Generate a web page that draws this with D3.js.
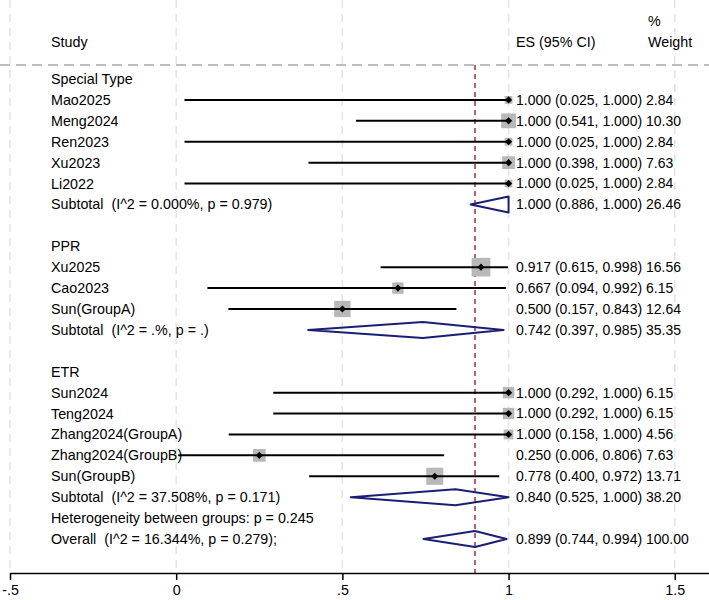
<!DOCTYPE html>
<html>
<head>
  <meta charset="utf-8">
  <title>Forest plot</title>
  <style>
  body { margin: 0; background: #fff; }
  svg text { font-family: "Liberation Sans", Arial, sans-serif; font-size: 14.3px; fill: #000; white-space: pre; }
  svg text.num { font-size: 14px; }
  .axis path, .axis line { stroke: #000; stroke-width: 1.5px; }
  </style>
</head>
<body>
  <svg width="709" height="600"></svg>
  <script src="https://d3js.org/d3.v7.min.js"></script>
  <script>
  // groups and studies
  var groups = ["Special Type", "PPR", "ETR"];
  var studies = ["Mao2025", "Meng2024", "Ren2023", "Xu2023", "Li2022",
                 "Xu2025", "Cao2023", "Sun(GroupA)",
                 "Sun2024", "Teng2024", "Zhang2024(GroupA)", "Zhang2024(GroupB)", "Sun(GroupB)"];
  var studyGroup = [0, 0, 0, 0, 0, 1, 1, 1, 2, 2, 2, 2, 2];
  var es     = [1.000, 1.000, 1.000, 1.000, 1.000, 0.917, 0.667, 0.500, 1.000, 1.000, 1.000, 0.250, 0.778];
  var lo     = [0.025, 0.541, 0.025, 0.398, 0.025, 0.615, 0.094, 0.157, 0.292, 0.292, 0.158, 0.006, 0.400];
  var hi     = [1.000, 1.000, 1.000, 1.000, 1.000, 0.998, 0.992, 0.843, 1.000, 1.000, 1.000, 0.806, 0.972];
  var weight = [2.84, 10.30, 2.84, 7.63, 2.84, 16.56, 6.15, 12.64, 6.15, 6.15, 4.56, 7.63, 13.71];

  // subtotals
  var subLabels = ["Subtotal  (I^2 = 0.000%, p = 0.979)", "Subtotal  (I^2 = .%, p = .)", "Subtotal  (I^2 = 37.508%, p = 0.171)"];
  var subEs  = [1.000, 0.742, 0.840];
  var subLo  = [0.886, 0.397, 0.525];
  var subHi  = [1.000, 0.985, 1.000];
  var subW   = [26.46, 35.35, 38.20];

  // overall
  var hetLabel = "Heterogeneity between groups: p = 0.245";
  var overallLabel = "Overall  (I^2 = 16.344%, p = 0.279);";
  var overall = {es: 0.899, lo: 0.744, hi: 0.994, w: 100.00};

  var ticks = [-0.5, 0, 0.5, 1, 1.5];
  var tickLabels = ["-.5", "0", ".5", "1", "1.5"];

  var svg = d3.select("svg");
  var axisY = 573, headY = 65;
  var colLabel = 51, colEs = 516, colW = 646;

  var fmt = d3.format(".3f"), fmtW = d3.format(".2f");
  var ci = function(e, l, h) { return fmt(e) + " (" + fmt(l) + ", " + fmt(h) + ")"; };

  // build the row list
  var rows = [], r = 0;
  groups.forEach(function(g, gi) {
    rows.push({row: r++, type: "group", label: g});
    studies.forEach(function(s, i) {
      if (studyGroup[i] !== gi) return;
      rows.push({row: r++, type: "study", label: s, es: es[i], lo: lo[i], hi: hi[i], w: weight[i]});
    });
    rows.push({row: r++, type: "sub", label: subLabels[gi], es: subEs[gi], lo: subLo[gi], hi: subHi[gi], w: subW[gi]});
    if (gi < groups.length - 1) r++;
  });
  rows.push({row: r++, type: "text", label: hetLabel});
  rows.push({row: r++, type: "sub", label: overallLabel, es: overall.es, lo: overall.lo, hi: overall.hi, w: overall.w});

  var x = d3.scaleLinear().domain([-0.5, 1.603]).range([10, 709]);
  var y = d3.scaleLinear().domain([0, 22]).range([79, 539]);

  // vertical grid lines
  svg.append("g").selectAll("line").data(ticks).join("line")
    .attr("x1", d => x(d)).attr("x2", d => x(d))
    .attr("y1", 0).attr("y2", axisY)
    .attr("stroke", "#e4e4e4").attr("stroke-width", 1.5)
    .attr("stroke-dasharray", "8,6");

  // header
  svg.append("text").attr("x", colLabel).attr("y", 42).attr("dy", "0.35em").text("Study");
  svg.append("text").attr("x", colEs).attr("y", 42).attr("dy", "0.35em").text("ES (95% CI)");
  svg.append("text").attr("x", 648).attr("y", 21).attr("dy", "0.35em").text("%");
  svg.append("text").attr("x", 648).attr("y", 42).attr("dy", "0.35em").text("Weight");

  svg.append("line")
    .attr("x1", 0).attr("x2", 709).attr("y1", headY).attr("y2", headY)
    .attr("stroke", "#a8a8a8").attr("stroke-width", 1.5)
    .attr("stroke-dasharray", "10,6");

  // overall effect line
  svg.append("line")
    .attr("x1", x(overall.es)).attr("x2", x(overall.es))
    .attr("y1", headY).attr("y2", axisY)
    .attr("stroke", "#a3313f").attr("stroke-width", 1.5)
    .attr("stroke-dasharray", "5,4");

  // labels
  svg.append("g").selectAll("text").data(rows).join("text")
    .attr("x", colLabel).attr("y", d => y(d.row)).attr("dy", "0.35em")
    .text(d => d.label);

  var est = rows.filter(d => d.type === "study" || d.type === "sub");
  svg.append("g").selectAll("text").data(est).join("text")
    .attr("class", "num")
    .attr("x", colEs).attr("y", d => y(d.row)).attr("dy", "0.35em")
    .text(d => ci(d.es, d.lo, d.hi));
  svg.append("g").selectAll("text").data(est).join("text")
    .attr("class", "num")
    .attr("x", colW).attr("y", d => y(d.row)).attr("dy", "0.35em")
    .text(d => fmtW(d.w));

  // study boxes, CI lines, points
  var st = rows.filter(d => d.type === "study");
  var side = d => 4.6 * Math.sqrt(d.w);
  svg.append("g").selectAll("rect").data(st).join("rect")
    .attr("x", d => x(d.es) - side(d) / 2).attr("y", d => y(d.row) - side(d) / 2)
    .attr("width", side).attr("height", side)
    .attr("fill", "#b8b8b8");
  svg.append("g").selectAll("line").data(st).join("line")
    .attr("x1", d => x(d.lo)).attr("x2", d => x(d.hi))
    .attr("y1", d => y(d.row)).attr("y2", d => y(d.row))
    .attr("stroke", "#000").attr("stroke-width", 2);
  svg.append("g").selectAll("path").data(st).join("path")
    .attr("d", d => {
      var cx = x(d.es), cy = y(d.row), s = 3.6;
      return "M" + (cx - s) + "," + cy + "L" + cx + "," + (cy - s) + "L" + (cx + s) + "," + cy + "L" + cx + "," + (cy + s) + "Z";
    })
    .attr("fill", "#000");

  // pooled diamonds
  var sb = rows.filter(d => d.type === "sub");
  svg.append("g").selectAll("path").data(sb).join("path")
    .attr("d", d => {
      var cy = y(d.row), h = 8;
      return "M" + x(d.lo) + "," + cy + "L" + x(d.es) + "," + (cy - h) + "L" + x(d.hi) + "," + cy + "L" + x(d.es) + "," + (cy + h) + "Z";
    })
    .attr("fill", "none").attr("stroke", "#1b1f74").attr("stroke-width", 2)
    .attr("stroke-linejoin", "round");

  // x axis
  svg.append("g")
    .attr("class", "axis")
    .attr("transform", "translate(0," + axisY + ")")
    .call(d3.axisBottom(x).tickValues(ticks)
      .tickFormat((d, i) => tickLabels[i])
      .tickSize(7).tickSizeOuter(0).tickPadding(5))
    .call(g => g.selectAll("text").attr("font-size", 14.3).attr("font-family", null).attr("fill", "#000"));
  </script>
</body>
</html>
